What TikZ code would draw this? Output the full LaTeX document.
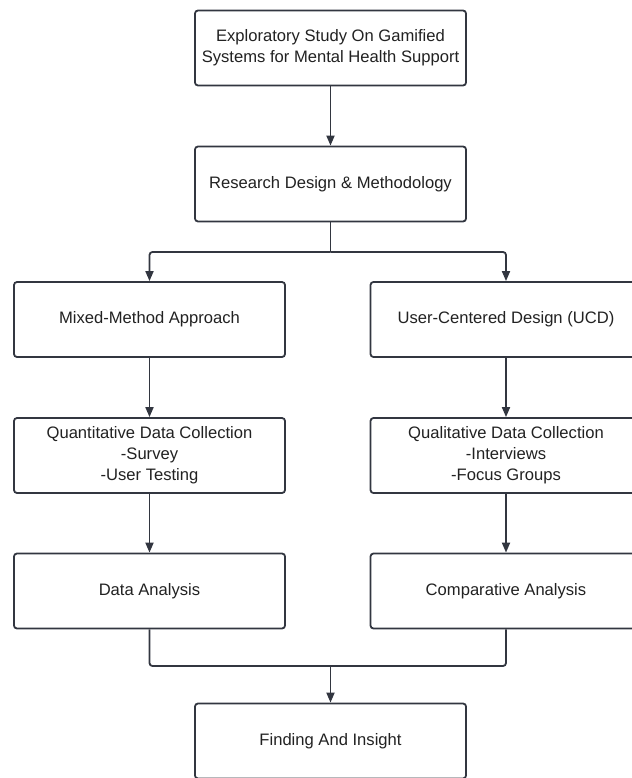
\documentclass[tikz,border=0pt]{standalone}
\usepackage{fontspec}
\setmainfont{Liberation Sans}
\usetikzlibrary{arrows.meta}
\definecolor{linecol}{RGB}{50,54,64}
\definecolor{textcol}{RGB}{34,34,34}
\begin{document}
\begin{tikzpicture}[x=1pt,y=-1pt,
  stepbox/.style={draw=linecol,line width=1.8pt,rounded corners=3pt,fill=white,
    minimum width=271pt,minimum height=75pt,align=center,inner sep=2pt,
    text=textcol,font=\fontsize{16.6}{21}\selectfont},
  conn/.style={draw=linecol,line width=1.8pt,rounded corners=3pt},
  arrow/.style={conn,-{Triangle[length=10pt,width=8pt]}}]
  \useasboundingbox (0,0) rectangle (631,778);

  \node[stepbox] (study) at (330.5,48) {Exploratory Study On Gamified\\Systems for Mental Health Support};
  \node[stepbox] (design) at (330.5,184) {Research Design \& Methodology};
  \node[stepbox] (mixed) at (149.5,319.5) {Mixed-Method Approach};
  \node[stepbox] (ucd) at (506,319.5) {User-Centered Design (UCD)};
  \node[stepbox] (quant) at (149.5,455.5) {Quantitative Data Collection\\-Survey\\-User Testing};
  \node[stepbox] (qual) at (506,455.5) {Qualitative Data Collection\\-Interviews\\-Focus Groups};
  \node[stepbox] (data) at (149.5,591) {Data Analysis};
  \node[stepbox] (comp) at (506,591) {Comparative Analysis};
  \node[stepbox] (find) at (330.5,741) {Finding And Insight};

  \coordinate (split) at (330.5,252);
  \coordinate (merge) at (330.5,666);

  \draw[arrow] (study) -- (design);
  \draw[conn] (design) -- (split);
  \draw[arrow] (split) -| (mixed);
  \draw[arrow] (split) -| (ucd);
  \draw[arrow] (mixed) -- (quant);
  \draw[arrow] (ucd) -- (qual);
  \draw[arrow] (quant) -- (data);
  \draw[arrow] (qual) -- (comp);
  \draw[conn] (data) |- (merge) -| (comp);
  \draw[arrow] (merge) -- (find);
\end{tikzpicture}
\end{document}
